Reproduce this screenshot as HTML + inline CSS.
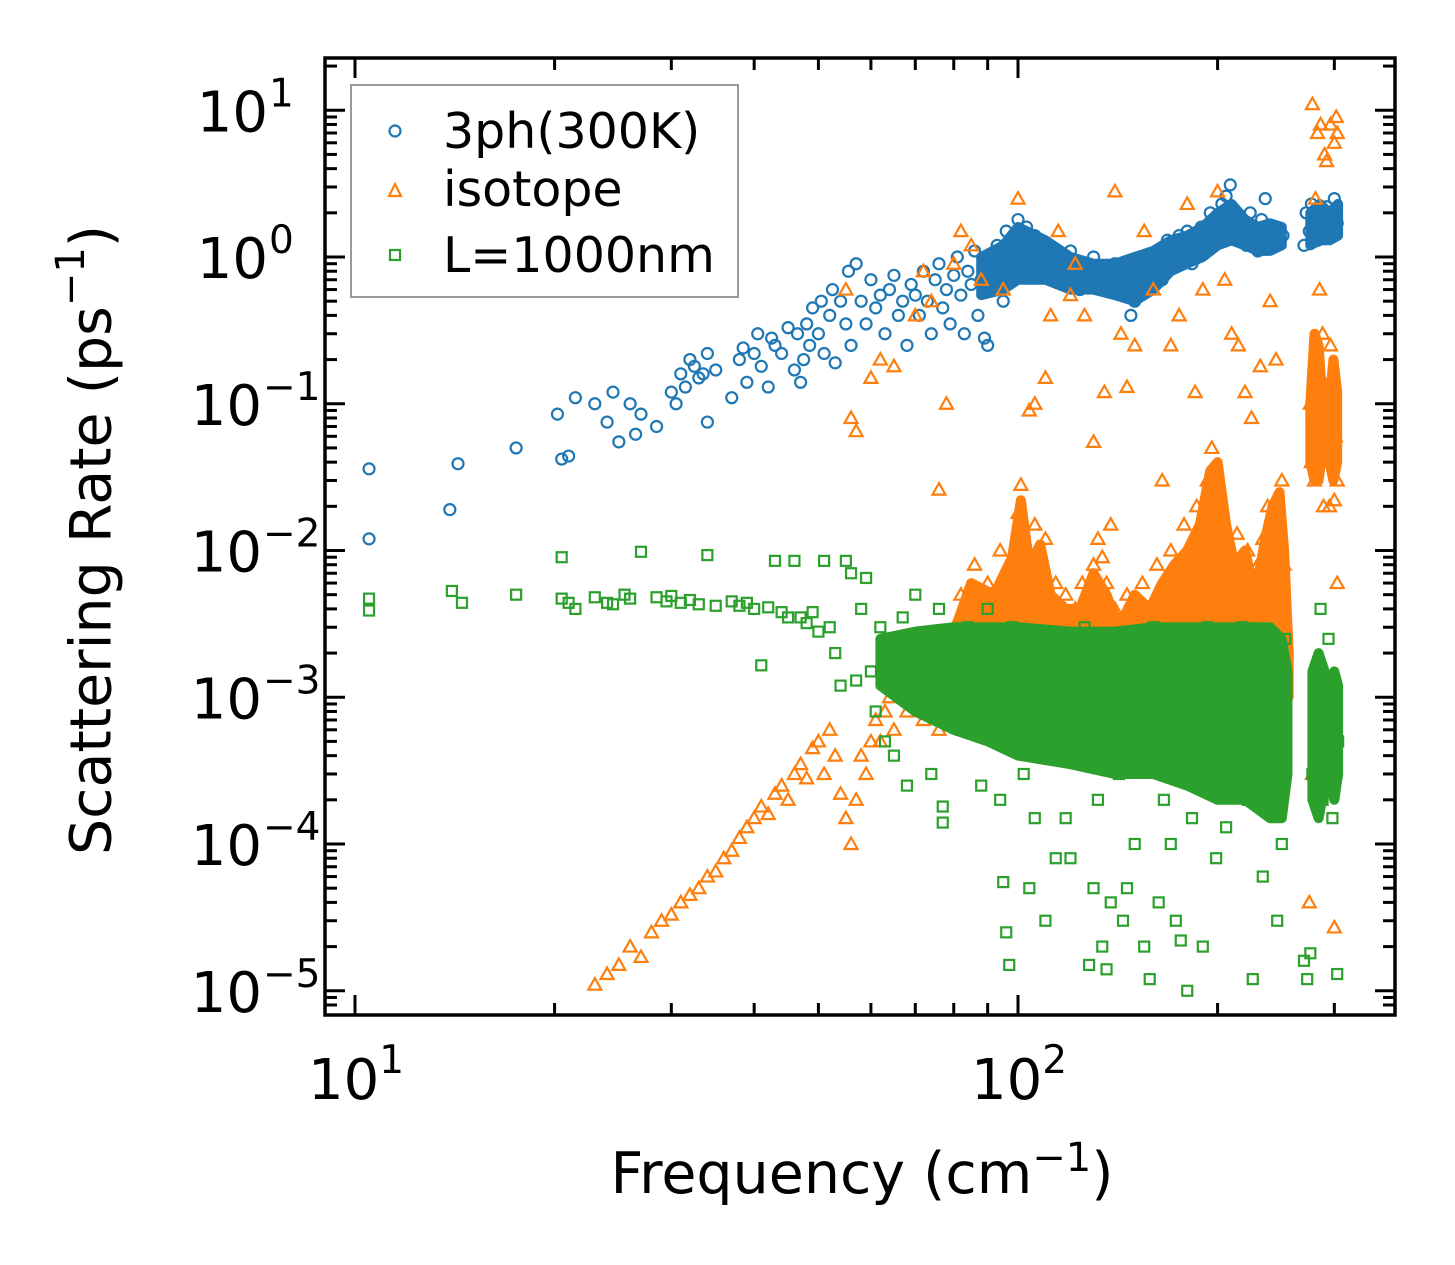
<!DOCTYPE html>
<html><head><meta charset="utf-8">
<style>
html,body{margin:0;padding:0;background:#fff;}
svg{display:block;font-family:"DejaVu Sans","Liberation Sans",sans-serif;}
</style></head>
<body>
<svg id="chart" width="1455" height="1265" viewBox="0 0 1455 1265" xmlns="http://www.w3.org/2000/svg">
<rect width="1455" height="1265" fill="#fff"/>
<g id="bands"></g>
<g id="marks"></g>
<g id="axes"></g>
<text x="95" y="540" font-size="57" text-anchor="middle" dominant-baseline="middle" transform="rotate(-90 95 540)">Scattering Rate (ps<tspan font-size="40" dy="-22">−1</tspan><tspan dy="22">)</tspan></text>
<text x="862" y="1193" font-size="57" text-anchor="middle">Frequency (cm<tspan font-size="40" dy="-22">−1</tspan><tspan dy="22">)</tspan></text>
<g>
<rect x="351" y="85" width="387" height="212" fill="#fff" stroke="#999" stroke-width="2"/>
<g>
<circle cx="395" cy="131" r="5.5" fill="none" stroke="#1f77b4" stroke-width="2.2"/>
<text x="443" y="148" font-size="49">3ph(300K)</text></g>
<g>
<path d="M395 184 L401 196 L389 196 Z" fill="none" stroke="#ff7f0e" stroke-width="2.2"/>
<text x="443" y="206" font-size="49">isotope</text></g>
<g>
<rect x="390" y="250" width="10" height="10" fill="none" stroke="#2ca02c" stroke-width="2.2"/>
<text x="443" y="272" font-size="49">L=1000nm</text></g>
</g>
</svg>
<script>
// ---- data (frequency cm^-1, rate ps^-1) ----
const blueF=[10.5,10.5,13.9,14.3,17.5,20.2,20.5,21,21.5,23,24,24.5,25,26,26.5,27,28.5,30,30.5,31,31.5,32,32.5,33,33.5,34,34,35,37,38,38.5,39,40,40.5,41,42,42.5,43,44,45,46,46.5,47,47.5,48,48.5,49,50,50.5,51,52,52.5,53,54,55,55.5,56,57,58,59,60,61,62,63,64,65,66,67,68,69,70,71,72,73,74,75,76,77,78,79,80,81,82,83,84,85,86,87,88,89,90,91,92,93,94,95,96,97,98,99,100,101,102,103,104,105,106,108,110,112,114,116,118,120,122,124,126,128,130,132,134,136,138,140,142,144,146,148,150,152,154,156,158,160,162,165,168,170,172,175,178,180,183,186,189,192,195,198,200,203,206,209,212,215,218,221,224,227,230,233,236,239,242,245,248,251,270,272,275,277,280,283,286,289,292,295,298,300,302,303];
const blueV=[0.036,0.012,0.019,0.039,0.05,0.085,0.042,0.044,0.11,0.1,0.075,0.12,0.055,0.1,0.062,0.085,0.07,0.12,0.1,0.16,0.13,0.2,0.18,0.15,0.16,0.075,0.22,0.17,0.11,0.2,0.24,0.14,0.22,0.3,0.18,0.13,0.28,0.25,0.22,0.33,0.17,0.3,0.14,0.2,0.35,0.25,0.45,0.3,0.5,0.22,0.4,0.6,0.19,0.5,0.35,0.8,0.25,0.9,0.5,0.35,0.7,0.45,0.55,0.3,0.6,0.75,0.4,0.5,0.25,0.65,0.55,0.4,0.8,0.5,0.3,0.7,0.9,0.45,0.6,0.35,0.75,1.0,0.55,0.3,0.8,0.65,1.1,0.4,0.7,0.28,0.25,0.9,0.6,1.2,0.8,0.5,1.5,1.0,0.7,1.3,1.8,1.1,0.8,1.6,1.2,0.9,1.4,1.0,1.2,0.8,1.0,0.7,0.9,1.1,0.8,0.6,0.9,0.75,1.0,0.7,0.85,0.65,0.8,0.9,0.7,0.55,0.8,0.4,0.5,0.9,0.7,1.0,0.6,0.8,1.1,0.7,1.3,1.0,0.85,1.4,1.1,1.5,0.9,1.2,1.6,1.3,2.0,1.5,1.8,2.3,2.6,3.1,1.9,1.4,1.7,1.2,2.0,1.5,1.1,1.8,2.5,1.4,1.6,1.2,1.5,1.4,1.2,2.0,1.5,2.3,1.8,1.3,2.0,1.6,2.2,1.4,1.9,2.5,2.1,1.7];
const orangeF=[23,24,25,26,27,28,29,30,31,32,33,34,35,36,37,38,39,40,41,42,43,44,45,46,47,48,49,50,51,52,53,54,55,56,57,58,59,60,61,62,63,64,65,66,68,70,72,74,76,78,80,82,84,86,88,90,92,94,96,98,100,101,102,104,106,108,110,112,114,116,118,120,122,125,128,130,132,134,136,138,140,143,146,150,154,158,162,166,170,174,178,182,186,190,193,196,199,202,206,210,214,218,222,226,230,234,238,242,246,250,252,55,56,57,60,62,65,70,72,74,78,80,76,82,85,88,95,100,104,106,110,112,115,120,122,126,130,135,140,143,146,150,155,160,165,170,175,180,185,190,200,205,210,215,220,225,232,240,245,278,283,286,290,292,296,300,302,303,281,285,288,276,279,282,284,287,290,293,296,299,301,303,277,280,289,295,300,303,300,275,278,290,285];
const orangeV=[1.1e-5,1.3e-5,1.5e-5,2e-5,1.7e-5,2.5e-5,3e-5,3.3e-5,4e-5,4.5e-5,5e-5,6e-5,6.5e-5,8e-5,9e-5,1.1e-4,1.3e-4,1.5e-4,1.8e-4,1.6e-4,2.2e-4,2.5e-4,2e-4,3e-4,3.5e-4,2.8e-4,4.5e-4,5e-4,3e-4,6e-4,4e-4,2.2e-4,1.5e-4,1e-4,2e-4,4e-4,3e-4,5e-4,7e-4,5e-4,8e-4,1e-3,6e-4,1.2e-3,8e-4,1.5e-3,7e-4,1e-3,6e-4,2e-3,3e-3,5e-3,4e-3,8e-3,3e-3,6e-3,4e-3,1e-2,5e-3,7e-3,1.8e-2,2.8e-2,1.2e-2,8e-3,1.5e-2,6e-3,1.2e-2,4e-3,6e-3,2.5e-3,5e-3,3e-3,4e-3,6e-3,3.5e-3,8e-3,1.2e-2,9e-3,6e-3,1.5e-2,4e-3,3e-3,5e-3,2e-3,6e-3,4e-3,8e-3,5e-3,1e-2,6e-3,1.5e-2,1e-2,2e-2,1.2e-2,3e-2,5e-2,2.5e-2,1.5e-2,8e-3,4e-3,1.3e-2,6e-3,1e-2,2.5e-3,8e-3,1.2e-2,2e-2,5e-3,1.5e-2,3e-2,8e-3,0.6,0.08,0.065,0.15,0.2,0.18,0.4,0.8,0.5,0.1,0.9,0.026,1.5,1.2,0.7,0.6,2.5,0.09,0.1,0.15,0.4,1.5,0.55,0.9,0.4,0.055,0.12,2.8,0.3,0.13,0.25,1.5,0.6,0.03,0.25,0.4,2.3,0.12,0.6,2.8,0.7,0.3,0.25,0.12,0.08,0.18,0.5,0.2,11,7,8,5,4.5,8,6,9,7,2.5,0.6,0.3,0.1,0.08,0.2,0.05,0.15,0.09,0.04,0.25,0.12,0.06,0.03,0.04,0.03,0.02,0.02,0.022,0.006,2.7e-5,4e-5,3e-4,1e-3,5e-4];
const greenF=[10.5,10.5,14,14.5,17.5,20.5,20.5,21,21.5,23,24,24.5,25.5,26,27,28.5,29.5,30,31,32,33,34,35,37,38,39,40,41,42,43,44,45,46,47,48,49,50,51,52,53,54,55,56,57,58,59,60,61,62,63,64,65,66,67,68,70,72,74,76,77,77,78,80,82,84,86,88,90,92,94,95,96,97,98,100,102,104,106,108,110,112,114,116,118,120,122,124,126,128,130,132,134,136,138,140,142,144,146,148,150,152,155,158,160,163,166,170,173,176,180,183,186,190,193,196,199,202,206,210,214,218,222,226,230,234,238,242,246,250,253,270,273,276,278,280,283,286,288,290,292,294,296,298,300,302,303,304];
const greenV=[4.7e-3,3.9e-3,5.3e-3,4.4e-3,5e-3,9e-3,4.7e-3,4.4e-3,4e-3,4.8e-3,4.4e-3,4.3e-3,5e-3,4.7e-3,9.8e-3,4.8e-3,4.5e-3,4.9e-3,4.4e-3,4.6e-3,4.3e-3,9.3e-3,4.2e-3,4.5e-3,4.2e-3,4.4e-3,4e-3,1.65e-3,4.1e-3,8.5e-3,3.8e-3,3.5e-3,8.5e-3,3.5e-3,3.2e-3,3.8e-3,2.8e-3,8.5e-3,3e-3,2e-3,1.2e-3,8.5e-3,7e-3,1.3e-3,4e-3,6.5e-3,1.5e-3,8e-4,3e-3,5e-4,2e-3,4e-4,1.2e-3,3.5e-3,2.5e-4,5e-3,2e-3,3e-4,4e-3,1.8e-4,1.4e-4,1e-3,2.5e-3,6e-4,3e-3,1.5e-3,2.5e-4,4e-3,8e-4,2e-4,5.5e-5,2.5e-5,1.5e-5,3e-3,1e-3,3e-4,5e-5,1.5e-4,2.5e-3,3e-5,6e-4,8e-5,2e-3,1.5e-4,8e-5,1e-3,4e-4,3e-3,1.5e-5,5e-5,2e-4,2e-5,1.4e-5,4e-5,1e-3,3e-4,3e-5,5e-5,2e-3,1e-4,5e-4,2e-5,1.2e-5,3e-3,4e-5,2e-4,1e-4,3e-5,2.2e-5,1e-5,1.5e-4,8e-4,2e-5,3e-3,4e-4,8e-5,2e-3,1.3e-4,1e-3,5e-4,3e-3,2e-4,1.2e-5,1e-3,6e-5,1.5e-3,3e-4,3e-5,1e-4,2.5e-3,1.6e-5,1.2e-5,1.8e-5,3e-4,8e-4,1.5e-3,4e-3,2e-4,1e-3,4e-4,2.5e-3,6e-4,1.5e-4,1e-3,3e-4,1.3e-5,5e-4];
// dense envelopes (frequency, lower rate, upper rate)
const blueBandF=[88,95,100,110,120,130,140,150,160,170,180,190,200,210,220,230,240,250];
const blueBandLo=[0.55,0.6,0.7,0.7,0.6,0.6,0.55,0.5,0.6,0.8,0.9,1.0,1.2,1.3,1.2,1.1,1.1,1.2];
const blueBandHi=[1.0,1.2,1.6,1.3,1.0,0.9,0.9,1.0,1.1,1.3,1.4,1.6,2.0,2.3,1.8,1.6,1.7,1.6];
const blueBand2F=[276,285,295,304];
const blueBand2Lo=[1.2,1.3,1.3,1.4];
const blueBand2Hi=[2.0,2.3,2.0,2.3];
const orangeBandF=[78,85,92,98,101,104,108,112,118,124,130,136,142,150,158,165,172,180,188,195,200,206,212,220,228,236,242,248,252,256];
const orangeBandLo=[8e-4,1e-3,1e-3,1e-3,1e-3,1e-3,1e-3,1e-3,1e-3,1e-3,1e-3,1e-3,1e-3,1e-3,1e-3,1e-3,1e-3,1e-3,1e-3,1e-3,1e-3,1e-3,1e-3,1e-3,1e-3,1e-3,1e-3,1e-3,1e-3,1e-3];
const orangeBandHi=[2e-3,6e-3,5e-3,9e-3,2.2e-2,8e-3,1.1e-2,5e-3,4e-3,4e-3,7e-3,5e-3,3e-3,5e-3,4e-3,6e-3,8e-3,1e-2,1.5e-2,3.5e-2,4e-2,1.5e-2,8e-3,1e-2,5e-3,1.2e-2,2e-2,2.5e-2,1e-2,2e-3];
const orangeBand2F=[276,280,284,288];
const orangeBand2Lo=[0.04,0.03,0.03,0.05];
const orangeBand2Hi=[0.1,0.3,0.25,0.1];
const orangeBand3F=[295,299,303];
const orangeBand3Lo=[0.04,0.03,0.04];
const orangeBand3Hi=[0.1,0.2,0.12];
const greenBandF=[62,70,80,90,100,120,140,160,180,200,220,240,250,255];
const greenBandLo=[1.2e-3,8e-4,6e-4,5e-4,4e-4,3.5e-4,3e-4,3e-4,2.5e-4,2e-4,2e-4,1.5e-4,1.5e-4,3e-4];
const greenBandHi=[2.5e-3,2.8e-3,3e-3,3e-3,3e-3,2.8e-3,2.8e-3,3e-3,3e-3,3e-3,3e-3,3e-3,2.5e-3,1.5e-3];
const greenBand2F=[278,284,290];
const greenBand2Lo=[2e-4,1.5e-4,2.5e-4];
const greenBand2Hi=[1.5e-3,2e-3,1.5e-3];
const greenBand3F=[296,300,304];
const greenBand3Lo=[2.5e-4,2e-4,3e-4];
const greenBand3Hi=[1.2e-3,1.5e-3,1.2e-3];
const xMajor=[10,100];
const xMajorExp=["1","2"];
const yMajorExp=[-5,-4,-3,-2,-1,0,1];

// ---- axis functions ----
const L=325,R=1395,T=58,B=1015;
const X=f=>1018+663*Math.log10(f/100);
const Y=v=>257-146.75*Math.log10(v);
const NS="http://www.w3.org/2000/svg";
function mk(tag,parent){const e=document.createElementNS(NS,tag);parent.appendChild(e);return e;}
const bands=document.getElementById('bands'),marks=document.getElementById('marks'),axes=document.getElementById('axes');

function bandPath(F,Lo,Hi){
  let d='M'+F.map((f,i)=>X(f).toFixed(1)+' '+Y(Hi[i]).toFixed(1)).join(' L');
  for(let i=F.length-1;i>=0;i--) d+=' L'+X(F[i]).toFixed(1)+' '+Y(Lo[i]).toFixed(1);
  return d+' Z';
}
function band(parent,F,Lo,Hi,color,name){
  const p=mk('path',parent);
  p.setAttribute('d',bandPath(F,Lo,Hi));p.setAttribute('fill',color);p.setAttribute('stroke',color);p.setAttribute('stroke-width','10');p.setAttribute('stroke-linejoin','round');
  
  
}
band(bands,blueBandF,blueBandLo,blueBandHi,'#1f77b4','band-3ph');
band(bands,blueBand2F,blueBand2Lo,blueBand2Hi,'#1f77b4','band-3ph-high');
band(bands,orangeBandF,orangeBandLo,orangeBandHi,'#ff7f0e','band-isotope');
band(bands,orangeBand2F,orangeBand2Lo,orangeBand2Hi,'#ff7f0e','band-isotope-high-a');
band(bands,orangeBand3F,orangeBand3Lo,orangeBand3Hi,'#ff7f0e','band-isotope-high-b');

function pts(F,V,type,color,name){
  F.forEach((f,i)=>{
    const x=X(f),y=Y(V[i]);let e;
    if(type==='c'){e=mk('circle',marks);e.setAttribute('cx',x);e.setAttribute('cy',y);e.setAttribute('r',5.5);}
    else if(type==='t'){e=mk('path',marks);e.setAttribute('d',`M${x} ${y-6.5} L${x+6.5} ${y+5} L${x-6.5} ${y+5} Z`);}
    else {e=mk('rect',marks);e.setAttribute('x',x-5);e.setAttribute('y',y-5);e.setAttribute('width',10);e.setAttribute('height',10);}
    e.setAttribute('fill','none');e.setAttribute('stroke',color);e.setAttribute('stroke-width','2.2');
    
    
  });
}
pts(blueF,blueV,'c','#1f77b4','point-3ph');
pts(orangeF,orangeV,'t','#ff7f0e','point-isotope');
pts(greenF,greenV,'s','#2ca02c','point-L1000nm');
band(marks,greenBandF,greenBandLo,greenBandHi,'#2ca02c','band-L1000nm');
band(marks,greenBand2F,greenBand2Lo,greenBand2Hi,'#2ca02c','band-L1000nm-high-a');
band(marks,greenBand3F,greenBand3Lo,greenBand3Hi,'#2ca02c','band-L1000nm-high-b');

// ---- axes ----
function line(x1,y1,x2,y2,w){const l=mk('line',axes);l.setAttribute('x1',x1);l.setAttribute('y1',y1);l.setAttribute('x2',x2);l.setAttribute('y2',y2);l.setAttribute('stroke','#000');l.setAttribute('stroke-width',w);
  
  }
const frame=mk('rect',axes);
frame.setAttribute('x',L);frame.setAttribute('y',T);frame.setAttribute('width',R-L);frame.setAttribute('height',B-T);
frame.setAttribute('fill','none');frame.setAttribute('stroke','#000');frame.setAttribute('stroke-width','3.5');


for(let dec=1;dec<=100;dec*=10){
  for(let m=1;m<=9;m++){const f=dec*m;const x=X(f);if(x<L+3||x>R-3)continue;const len=m===1?20:12;
    line(x,B,x,B-len,3);line(x,T,x,T+len,3);}
}
for(let e=-6;e<=1;e++){
  for(let m=1;m<=9;m++){const v=m*Math.pow(10,e);const y=Y(v);if(y<T+3||y>B-3)continue;const len=m===1?20:12;
    line(L,y,L+len,y,3);line(R,y,R-len,y,3);}
}
xMajor.forEach((f,i)=>{
  const t=mk('text',axes);t.setAttribute('x',X(f)+1);t.setAttribute('y',1099);t.setAttribute('font-size','56');t.setAttribute('text-anchor','middle');
  t.innerHTML='10<tspan font-size="39" dy="-26">'+xMajorExp[i]+'</tspan>';
  
  
});
yMajorExp.forEach(e=>{
  const y=Y(Math.pow(10,e));
  const t=mk('text',axes);t.setAttribute('x',e<0?262:268);t.setAttribute('y',y+21);t.setAttribute('font-size','56');t.setAttribute('text-anchor','end');
  t.textContent='10';
  
  
  const s=mk('text',axes);s.setAttribute('x',e<0?263:269);s.setAttribute('y',y-4);s.setAttribute('font-size','39');s.setAttribute('text-anchor','start');
  s.textContent=e<0?'−'+(-e):String(e);
  
  
});
</script>
</body></html>
